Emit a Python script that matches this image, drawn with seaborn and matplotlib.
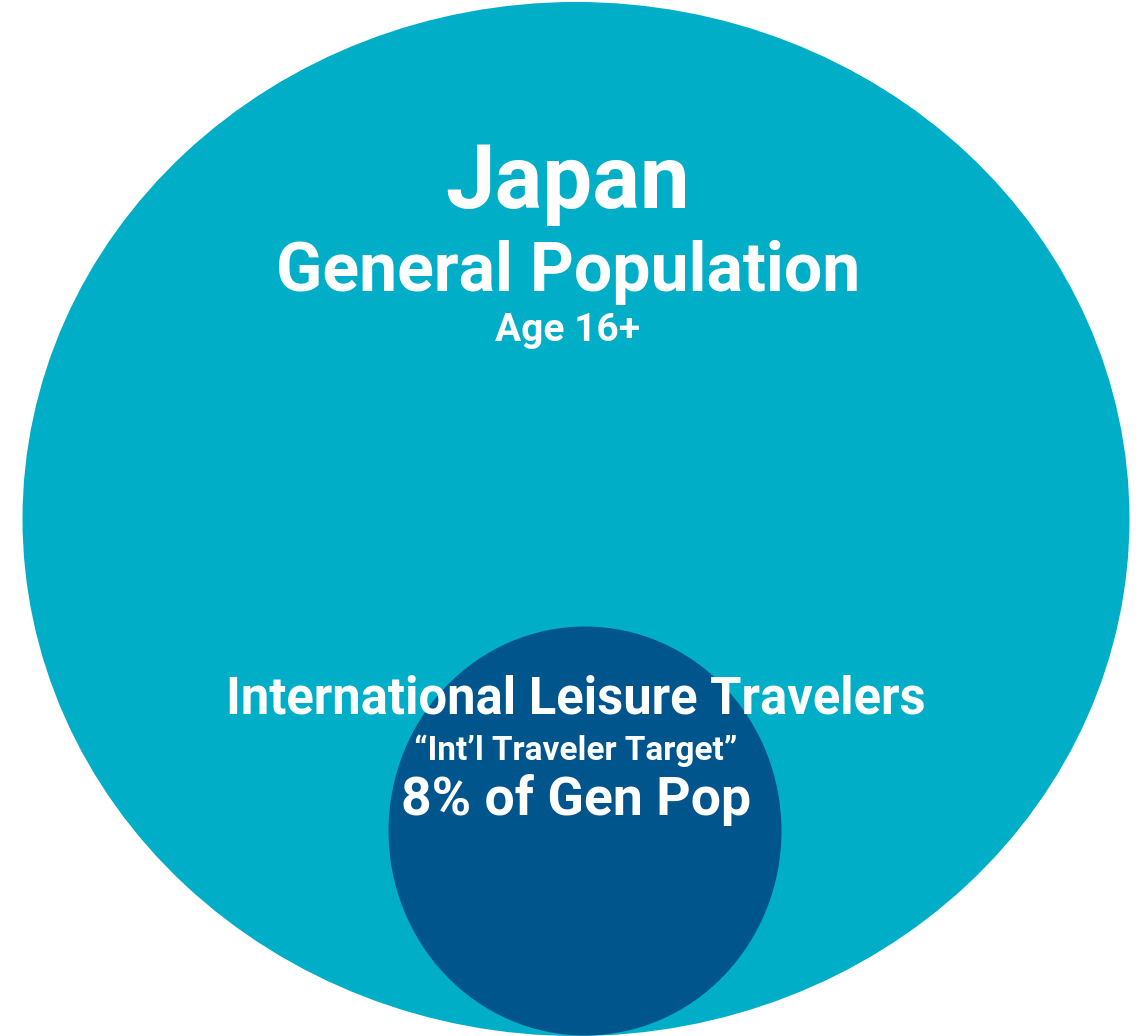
import numpy as np
import matplotlib
matplotlib.use("Agg")
import matplotlib.pyplot as plt
from matplotlib.patches import Ellipse
import seaborn as sns

# groups (outer = general population, inner = target share)
groups = ["Japan General Population", "International Leisure Travelers"]
share_pct = [100, 8]
outer_lines = ["Japan", "General Population", "Age 16+"]
inner_lines = ["International Leisure Travelers", "\u201cInt\u2019l Traveler Target\u201d",
               f"{share_pct[1]}% of Gen Pop"]

sns.set_theme(style="white")
plt.rcParams['font.family'] = ['Roboto', 'Lato', 'DejaVu Sans']

fig = plt.figure(figsize=(11.42, 10.36), dpi=100)
ax = fig.add_axes([0, 0, 1, 1])
ax.set_xlim(0, 1142)
ax.set_ylim(1036, 0)
ax.axis("off")

# outer ellipse and inner circle (pixel layout)
shapes = [
    dict(xy=(576, 519), w=1107, h=1034, color="#00AEC7"),
    dict(xy=(585, 831), w=393, h=409, color="#00568C"),
]
for s in shapes:
    ax.add_patch(Ellipse(s["xy"], s["w"], s["h"], facecolor=s["color"], edgecolor="none"))

outer_y = [208, 291, 341]
outer_size = [64, 49, 28]
for txt, y, fs in zip(outer_lines, outer_y, outer_size):
    ax.text(568, y, txt, color="white", fontsize=fs, fontweight="bold",
            ha="center", va="baseline")

inner_y = [713, 760, 815]
inner_size = [36.5, 24, 38.5]
for txt, y, fs in zip(inner_lines, inner_y, inner_size):
    ax.text(576, y, txt, color="white", fontsize=fs, fontweight="bold",
            ha="center", va="baseline")

fig.savefig("out.png", dpi=100, facecolor="white")
